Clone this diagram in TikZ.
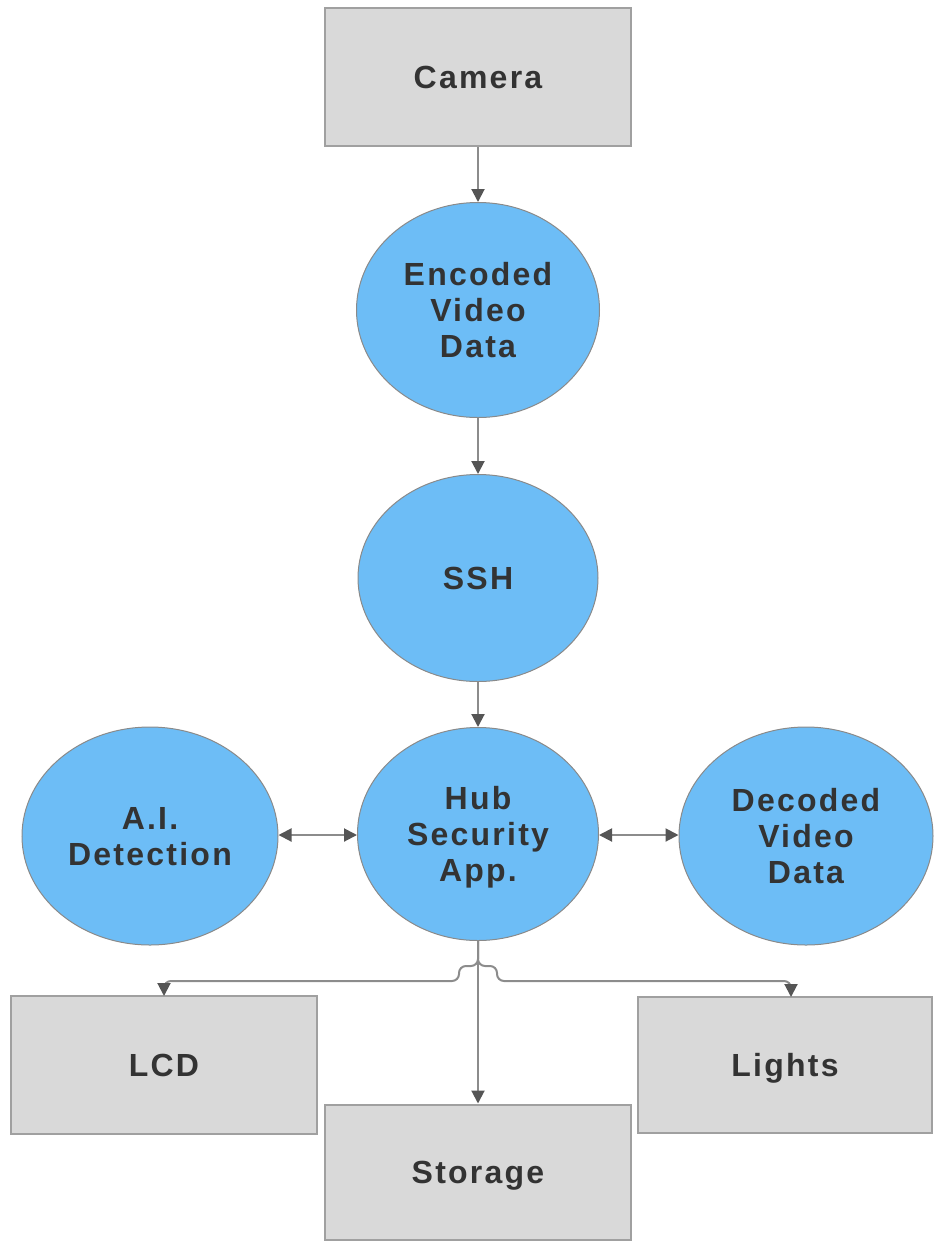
\documentclass[tikz,border=0pt]{standalone}
\usepackage{fontspec}
\setmainfont{Liberation Sans}
\newfontfamily\lblfont[LetterSpace=7]{Liberation Sans}
\usetikzlibrary{shapes.geometric,arrows.meta}
\definecolor{boxfill}{HTML}{D9D9D9}
\definecolor{boxline}{HTML}{A0A0A0}
\definecolor{ellfill}{HTML}{6DBDF6}
\definecolor{ellline}{HTML}{8A8A8A}
\definecolor{txt}{HTML}{333333}
\definecolor{conn}{HTML}{8C8C8C}
\definecolor{tip}{HTML}{555555}
\begin{document}
\begin{tikzpicture}[x=1pt,y=-1pt,
  every node/.style={font=\lblfont\fontsize{32}{36}\selectfont\bfseries, text=txt, align=center, inner sep=0pt, text depth=0pt},
  boxnode/.style={rectangle, fill=boxfill, draw=boxline, line width=2pt},
  ellnode/.style={ellipse, fill=ellfill, draw=ellline, line width=1pt},
  conline/.style={draw=conn, line width=2pt, -{Triangle[length=13pt,width=13pt,color=tip]}},
  dconline/.style={draw=conn, line width=2pt, {Triangle[length=13pt,width=13pt,color=tip]}-{Triangle[length=13pt,width=13pt,color=tip]}}
]
\useasboundingbox (0,0) rectangle (934,1243);
\node[boxnode, minimum width=306pt, minimum height=138pt] (cam) at (478,77) {Camera};
\node[ellnode, minimum width=243pt, minimum height=215pt] (enc) at (478,310) {Encoded\\Video\\Data};
\node[ellnode, minimum width=240pt, minimum height=207pt] (ssh) at (478,578) {SSH};
\node[ellnode, minimum width=241pt, minimum height=213pt] (hub) at (478,834) {Hub\\Security\\App.};
\node[ellnode, minimum width=256pt, minimum height=218pt] (ai) at (150,836) {A.I.\\Detection};
\node[ellnode, minimum width=254pt, minimum height=218pt] (dec) at (806,836) {Decoded\\Video\\Data};
\node[boxnode, minimum width=306pt, minimum height=138pt] (lcd) at (164,1065) {LCD};
\node[boxnode, minimum width=294pt, minimum height=136pt] (lights) at (785,1065) {Lights};
\node[boxnode, minimum width=306pt, minimum height=135pt] (sto) at (478,1172) {Storage};
\coordinate (lcdin) at (164,996);
\coordinate (lightsin) at (791,997);

\draw[conline] (cam.south) -- (enc.north);
\draw[conline] (enc.south) -- (ssh.north);
\draw[conline] (ssh.south) -- (hub.north);
\draw[dconline] (ai.east |- 0,835) -- (hub.west |- 0,835);
\draw[dconline] (hub.east |- 0,835) -- (dec.west |- 0,835);
\draw[conline] (hub.south) -- (sto.north);
\draw[conline, rounded corners=7pt] (hub.south) -- (478,966) -- (459,966) -- (459,981) -| (lcdin);
\draw[conline, rounded corners=7pt] (hub.south) -- (478,966) -- (497,966) -- (497,981) -| (lightsin);
\end{tikzpicture}
\end{document}
